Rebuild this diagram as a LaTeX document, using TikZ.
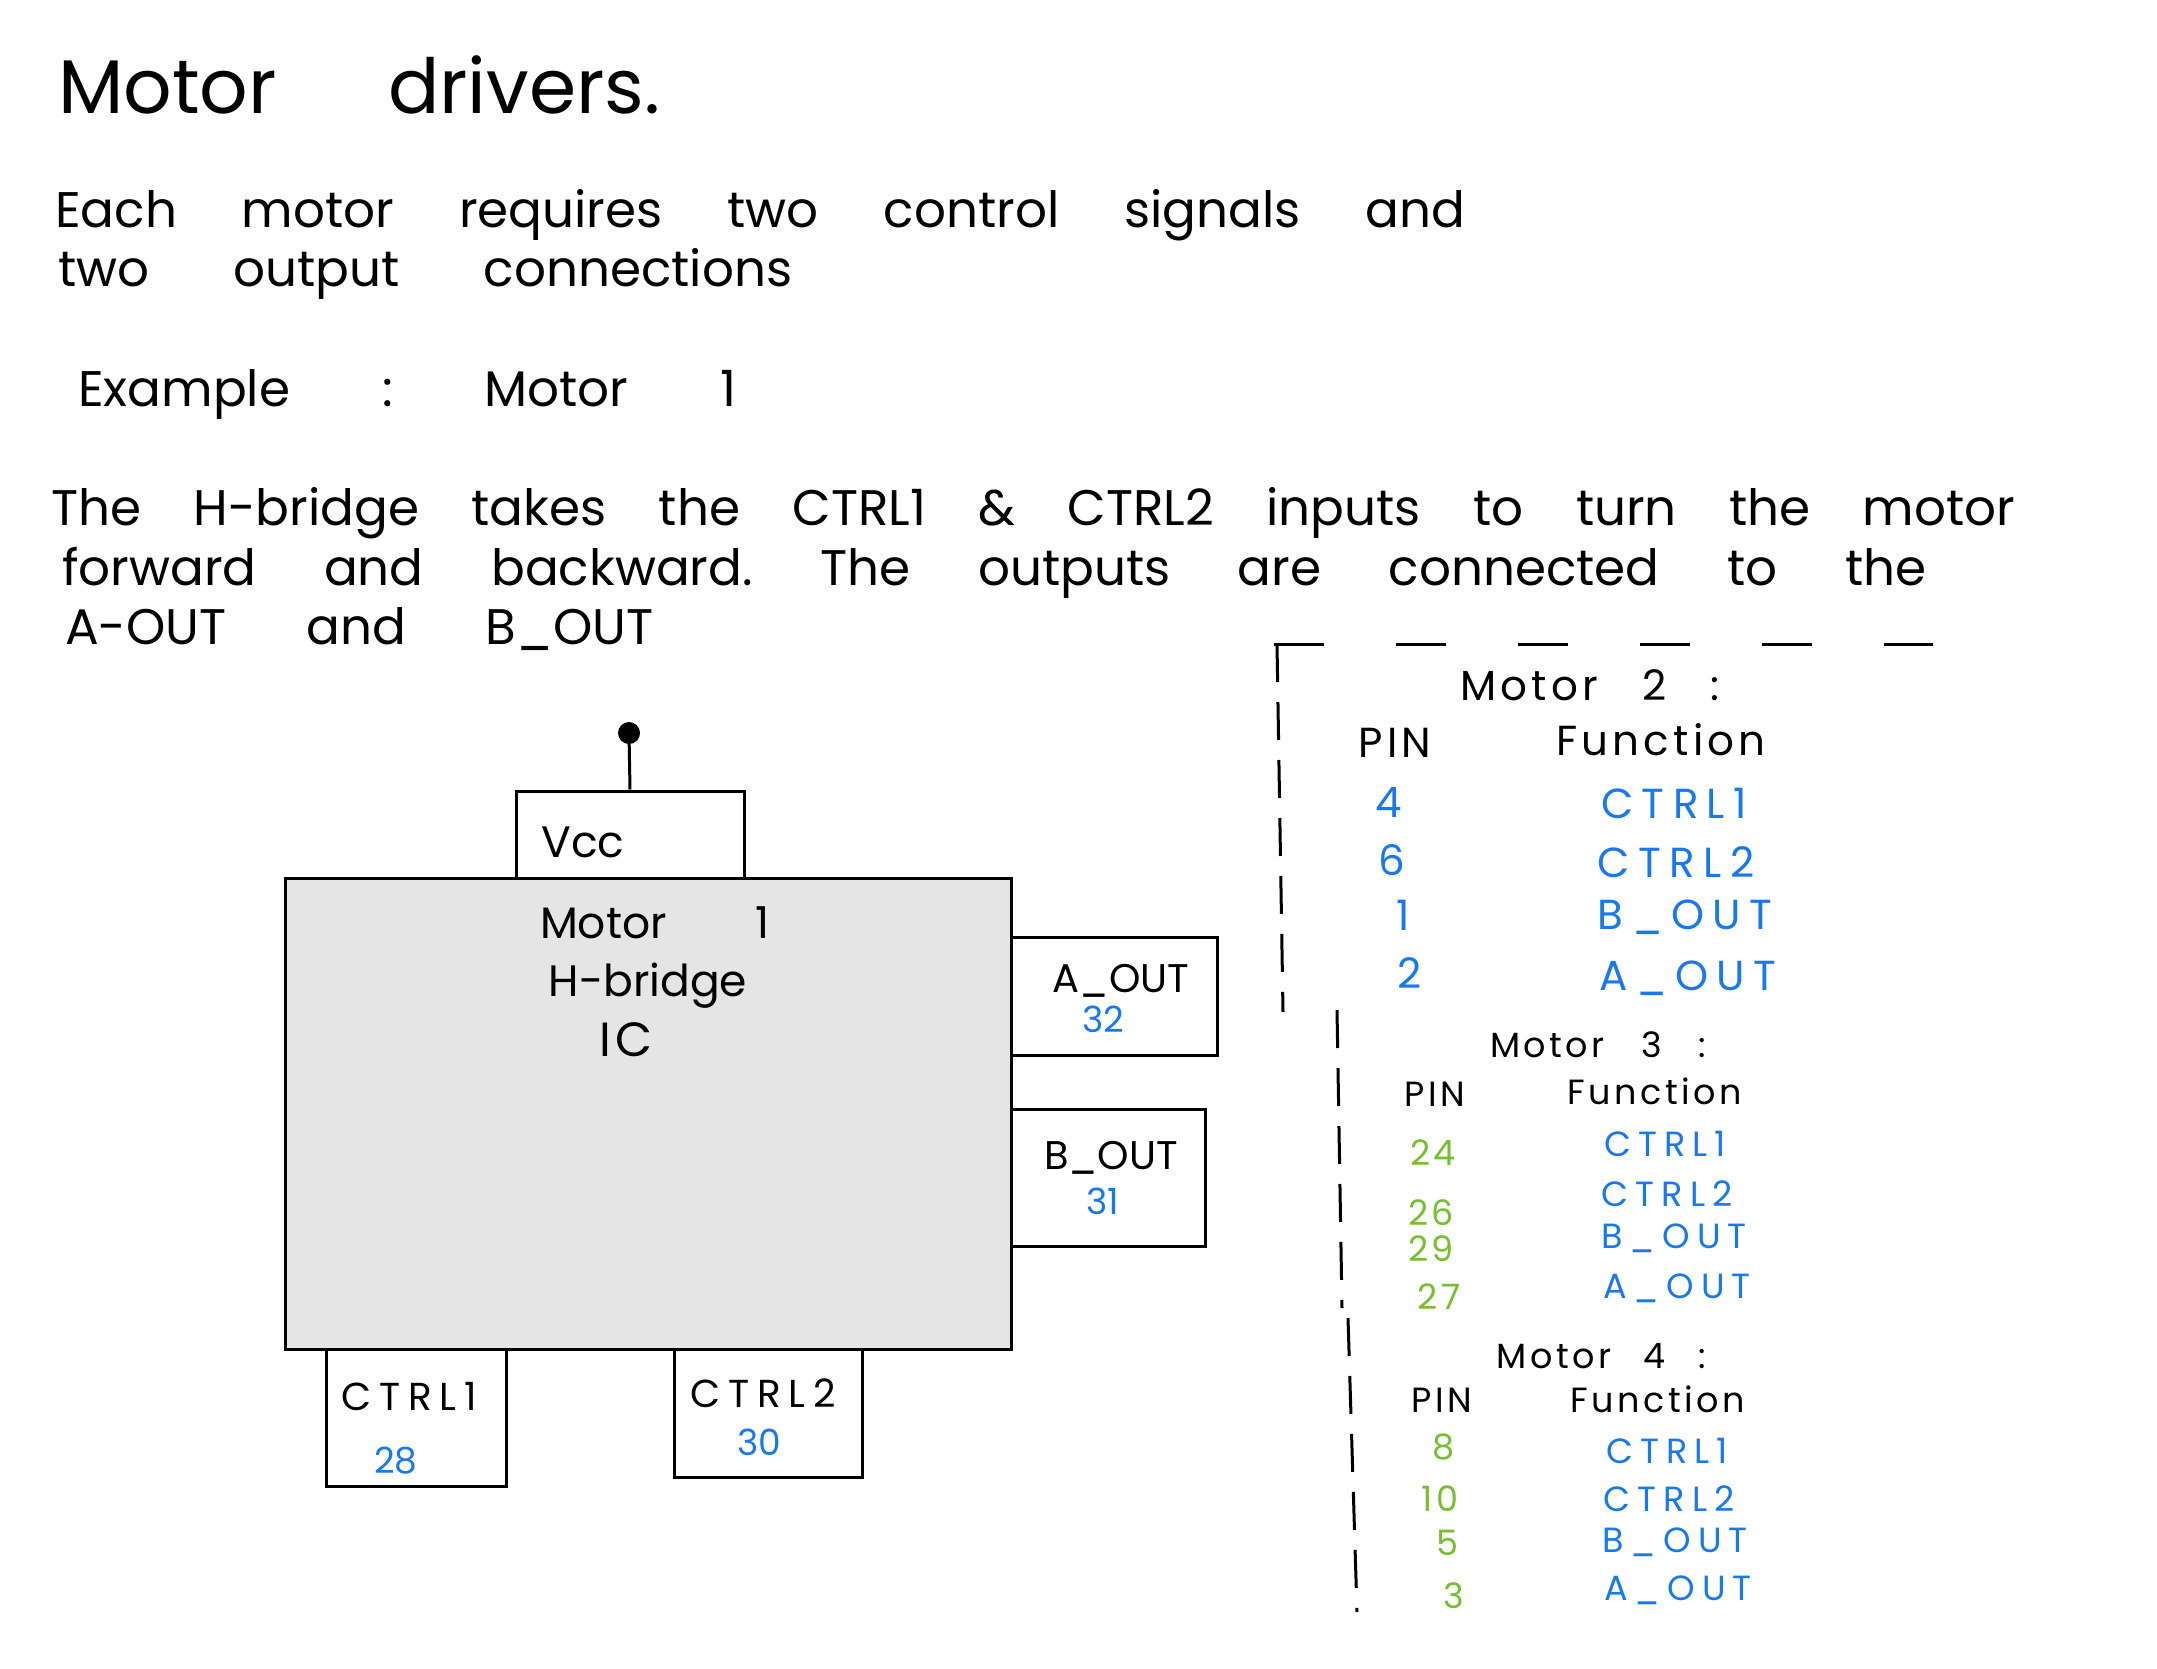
\documentclass[tikz,border=0pt]{standalone}
\usepackage{fontspec}
\setmainfont{Poppins}
\newfontfamily\wide[LetterSpace=20]{Poppins}
\newfontfamily\semiwide[LetterSpace=10]{Poppins}
\definecolor{penblue}{RGB}{25,120,235}
\definecolor{pengreen}{RGB}{120,190,50}

\tikzstyle{line} = [anchor=base west, inner sep=0pt, font=\fontsize{50}{56}\selectfont]
\tikzstyle{pinbox} = [draw, line width=3pt, inner sep=0pt]
\tikzstyle{pinname} = [inner sep=0pt, font=\fontsize{40}{44}\selectfont]
\tikzstyle{pinnum} = [inner sep=0pt, text=penblue, font=\fontsize{36}{40}\selectfont]
\tikzstyle{head} = [inner sep=0pt, font=\fontsize{42}{46}\selectfont\semiwide]
\tikzstyle{big} = [inner sep=0pt, font=\fontsize{42}{46}\selectfont\wide]
\tikzstyle{small} = [inner sep=0pt, font=\fontsize{35}{38}\selectfont\semiwide]
\tikzstyle{smallcap} = [inner sep=0pt, text=penblue, font=\fontsize{35}{38}\selectfont\wide]
\tikzstyle{frame} = [line width=3pt, dash pattern=on 38pt off 20pt]

\begin{document}
\frenchspacing
\begin{tikzpicture}[x=1pt, y=-1pt]
  \useasboundingbox (0,0) rectangle (2157,1668);
  % text above
  \node (title) at (58,113) [line, font=\fontsize{76}{82}\selectfont] {\makebox[602pt][s]{Motor drivers.}};
  \node (l1) at (55,227) [line] {\makebox[1410pt][s]{Each motor requires two control signals and}};
  \node (l2) at (58,286) [line] {\makebox[734pt][s]{two output connections}};
  \node (l3) at (78,406) [line] {\makebox[658pt][s]{Example : Motor 1}};
  \node (l4) at (51,525) [line] {\makebox[1964pt][s]{The H-bridge takes the CTRL1 \& CTRL2 inputs to turn the motor}};
  \node (l5) at (62,585) [line] {\makebox[1864pt][s]{forward and backward. The outputs are connected to the}};
  \node (l6) at (65,644) [line] {\makebox[588pt][s]{A-OUT and B\_OUT}};

  % pin boxes round the chip
  \node (vcc) at (630,834.5) [pinbox, minimum width=228pt, minimum height=87pt] {};
  \node (aout) at (1114,996) [pinbox, minimum width=206pt, minimum height=118pt] {};
  \node (bout) at (1108,1177.5) [pinbox, minimum width=194pt, minimum height=137pt] {};
  \node (ctrla) at (416,1417.5) [pinbox, minimum width=180pt, minimum height=137pt] {};
  \node (ctrlb) at (768,1413) [pinbox, minimum width=188pt, minimum height=128pt] {};
  \node (chip) at (648,1113.5) [pinbox, fill=gray!20, minimum width=726pt, minimum height=471pt] {};
  \node (vccdot) at (629,733) [circle, fill, inner sep=0pt, minimum size=22pt] {};
  \draw [line width=3pt] (vccdot) -- (vcc.north);

  \node (vcclabel) at (583,842) [pinname, font=\fontsize{44}{48}\selectfont] {Vcc};
  \node (chipa) at (655,938) [pinname, anchor=base, font=\fontsize{44}{48}\selectfont] {\makebox[230pt][s]{Motor 1}};
  \node (chipb) at (648,996) [pinname, anchor=base, font=\fontsize{44}{48}\selectfont] {H-bridge};
  \node (chipc) at (626,1056) [pinname, anchor=base, font=\fontsize{48}{50}\selectfont\semiwide] {IC};
  \node (aname) at (1121,981) [pinname] {A\_OUT};
  \node (anum) at (1103,1019) [pinnum] {32};
  \node (bname) at (1111,1158) [pinname] {B\_OUT};
  \node (bnum) at (1103,1201) [pinnum] {31};
  \node (c1name) at (409,1396) [pinname, font=\fontsize{39}{42}\selectfont\wide] {CTRL1};
  \node (c1num) at (396,1461) [pinnum] {28};
  \node (c2name) at (763,1393) [pinname, font=\fontsize{39}{42}\selectfont\wide] {CTRL2};
  \node (c2num) at (759,1442) [pinnum] {30};

  % pin table
  \draw [line width=3pt, dash pattern=on 50pt off 72pt] (1274,644) -- (1933,644);
  \draw [frame] (1277,644) -- (1283,1012);
  \draw [frame] (1337,1010) -- (1342,1308);
  \draw [frame] (1348,1318) -- (1357,1612);

  \node (mtwo) at (1590,685) [head] {\makebox[259pt][s]{Motor 2 :}};
  \node (mtwopin) at (1395,743) [head] {PIN};
  \node (mtwofn) at (1661,740) [head] {Function};
  \node (mtwoa) at (1389,802) [big, text=penblue] {4};
  \node (mtwoafn) at (1674,803) [big, text=penblue] {CTRL1};
  \node (mtwob) at (1392,860) [big, text=penblue] {6};
  \node (mtwobfn) at (1676,862) [big, text=penblue] {CTRL2};
  \node (mtwoc) at (1403,915) [big, text=penblue] {1};
  \node (mtwocfn) at (1685,917) [big, text=penblue] {B\_OUT};
  \node (mtwod) at (1410,973) [big, text=penblue] {2};
  \node (mtwodfn) at (1688,978) [big, text=penblue] {A\_OUT};

  \node (mthree) at (1598,1045) [small] {\makebox[216pt][s]{Motor 3 :}};
  \node (mthreepin) at (1435,1094) [small] {PIN};
  \node (mthreefn) at (1655,1091) [small] {Function};
  \node (mthreea) at (1433,1153) [small, text=pengreen] {24};
  \node (mthreeafn) at (1665,1144) [smallcap] {CTRL1};
  \node (mthreeb) at (1431,1213) [small, text=pengreen] {26};
  \node (mthreebfn) at (1667,1194) [smallcap] {CTRL2};
  \node (mthreec) at (1431,1249) [small, text=pengreen] {29};
  \node (mthreecfn) at (1674,1238) [smallcap] {B\_OUT};
  \node (mthreed) at (1439,1297) [small, text=pengreen] {27};
  \node (mthreedfn) at (1677,1288) [smallcap] {A\_OUT};

  \node (mfour) at (1601,1356) [small] {\makebox[209pt][s]{Motor 4 :}};
  \node (mfourpin) at (1442,1400) [small] {PIN};
  \node (mfourfn) at (1658,1399) [small] {Function};
  \node (mfoura) at (1444,1447) [small, text=pengreen] {8};
  \node (mfourafn) at (1667,1451) [smallcap] {CTRL1};
  \node (mfourb) at (1440,1499) [small, text=pengreen] {10};
  \node (mfourbfn) at (1669,1499) [smallcap] {CTRL2};
  \node (mfourc) at (1447,1543) [small, text=pengreen] {5};
  \node (mfourcfn) at (1675,1542) [smallcap] {B\_OUT};
  \node (mfourd) at (1454,1596) [small, text=pengreen] {3};
  \node (mfourdfn) at (1678,1590) [smallcap] {A\_OUT};
\end{tikzpicture}
\end{document}
